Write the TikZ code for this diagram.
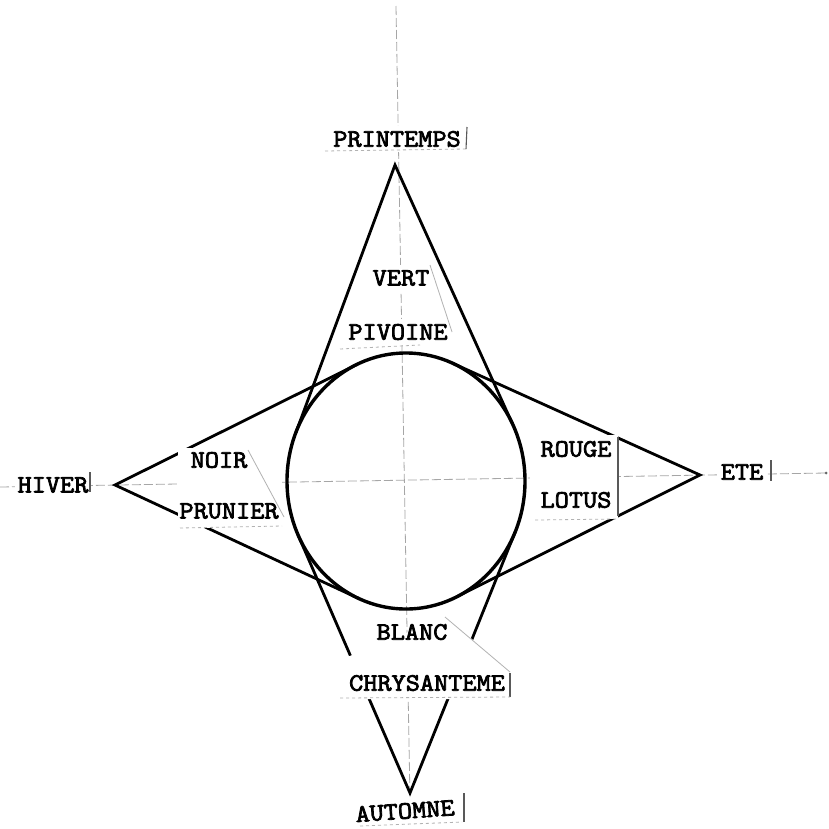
\documentclass[tikz,border=0pt]{standalone}
\usepackage{fontspec}
\newfontfamily\typew{Latin Modern Mono}[FakeBold=3, FakeStretch=1.1]
\begin{document}
\begin{tikzpicture}[x=1pt,y=-1pt,
  lbl/.style={font=\typew\fontsize{25}{29}\selectfont, fill=white, inner xsep=3pt, inner ysep=5pt},
  bare/.style={font=\typew\fontsize{25}{29}\selectfont, inner sep=0pt},
  heavy/.style={line width=2.8pt, line cap=round, black},
  axis/.style={black!35, line width=0.8pt, dash pattern=on 9pt off 3pt},
  pasteedge/.style={black!30, line width=0.8pt},
  pastebar/.style={black!65, line width=1.1pt},
  patch/.style={fill=white, draw=none}]
\useasboundingbox (0,0) rectangle (829,828);
\fill[white] (0,0) rectangle (829,828);

% faint guide axes
\coordinate (axN) at (396,6);
\coordinate (axS) at (410,800);
\coordinate (axW) at (0,487);
\coordinate (axE) at (826,473);
\draw[axis] (axN) -- (axS);
\draw[axis] (axW) -- (axE);
\fill[black!60] (axE) circle (1.5pt);

% circle
\coordinate (c) at (406,481);
\draw[heavy, line width=3.4pt] (c) ellipse [x radius=119pt, y radius=128pt];

% apexes
\coordinate (top) at (395,165);
\coordinate (bot) at (410,793);
\coordinate (lft) at (115,485);
\coordinate (rgt) at (700,475);
% tangent points
\coordinate (t1) at (512.9,424.8);
\coordinate (t2) at (295.5,433.6);
\coordinate (t3) at (298.1,535.1);
\coordinate (t4) at (515.2,531.9);
\coordinate (t5) at (356.0,364.9);
\coordinate (t6) at (358.7,598.5);
\coordinate (t7) at (452.1,363.0);
\coordinate (t8) at (456.2,597.0);

\draw[heavy] (t2) -- (top) -- (t1);
\draw[heavy] (t3) -- (bot) -- (t4);
\draw[heavy] (t5) -- (lft) -- (t6);
\draw[heavy] (t7) -- (rgt) -- (t8);

% pasted label patches
\fill[patch] (178,448) rectangle (282,528);
\fill[patch] (530,435) rectangle (618,519);
\fill[patch] (340,660) -- (445,617) -- (512,672) -- (512,699) -- (340,699) -- cycle;

% labels
\node[lbl] (printemps) at (397,139) {PRINTEMPS};
\node[lbl] (vert) at (401,278) {VERT};
\node[lbl] (pivoine) at (398,332) {PIVOINE};
\node[lbl] (hiver) at (53,485) {HIVER};
\node[bare] (noir) at (219,460) {NOIR};
\node[bare] (prunier) at (229,511) {PRUNIER};
\node[bare] (rouge) at (576,449) {ROUGE};
\node[bare] (lotus) at (576,500) {LOTUS};
\node[lbl] (ete) at (742,472) {ETE};
\node[bare] (blanc) at (412,632) {BLANC};
\node[bare] (chrys) at (427,683) {CHRYSANTEME};
\node[lbl, rotate=4] (automne) at (405,811) {AUTOMNE};

% paste-up edges
\draw[pastebar] (467,127) -- (466,149);
\draw[pastebar] (90,472) -- (90,492);
\draw[pastebar] (771,460) -- (771,481);
\draw[pastebar] (464,793) -- (464,822);
\draw[pastebar] (618,437) -- (618,516);
\draw[pastebar] (510,673) -- (510,697);
\draw[pasteedge, dashed] (325,151) -- (466,149);
\draw[pasteedge] (430,265) -- (452,332);
\draw[pasteedge, dashed] (340,349) -- (420,345);
\draw[pasteedge] (248,450) -- (284,517);
\draw[pasteedge, dashed] (180,528) -- (282,526);
\draw[pasteedge] (445,617) -- (510,672);
\draw[pasteedge, dashed] (340,698) -- (510,697);
\draw[pasteedge, dashed] (535,520) -- (616,519);
\draw[pasteedge, dashed] (360,826) -- (462,822);
\end{tikzpicture}
\end{document}
